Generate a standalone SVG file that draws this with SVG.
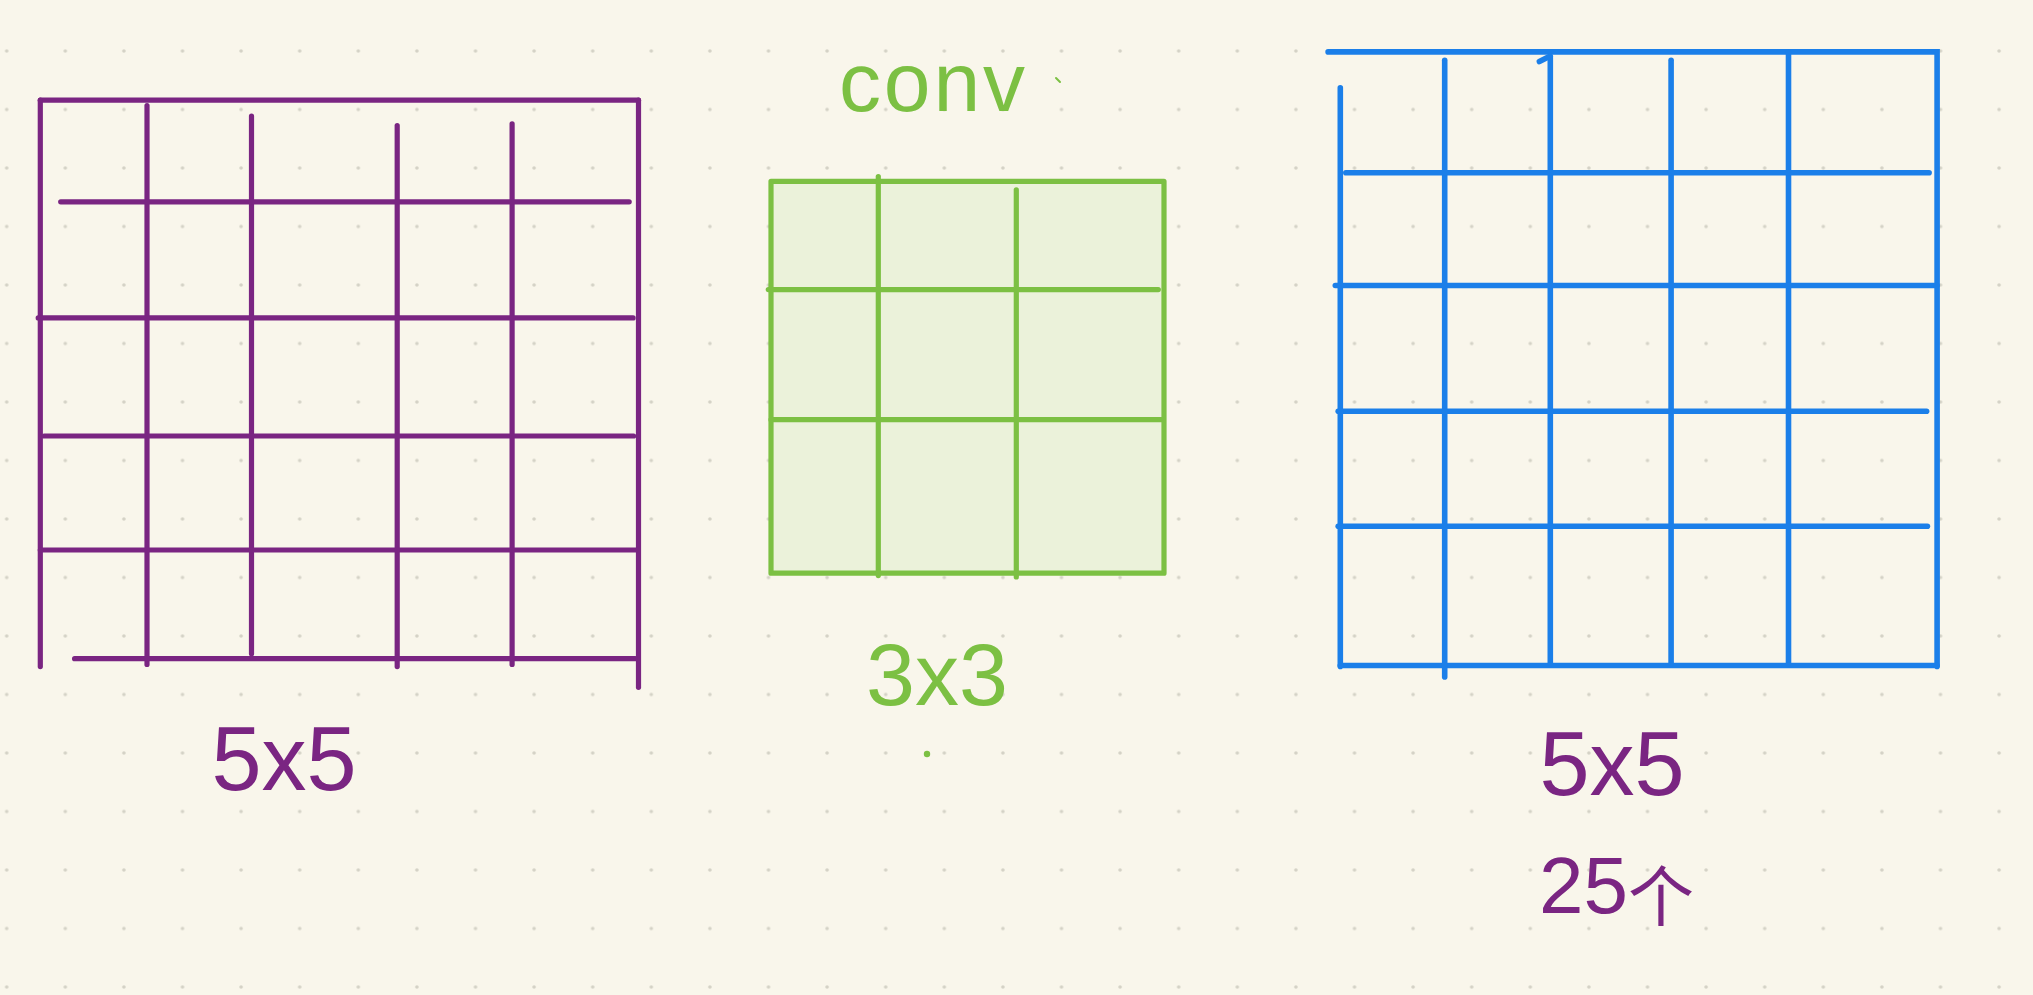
<svg xmlns="http://www.w3.org/2000/svg" width="2033" height="995" viewBox="0 0 2033 995">
  <defs>
    <pattern id="dots" x="6.7" y="51" width="58.6" height="58.5" patternUnits="userSpaceOnUse">
      <circle cx="0" cy="0" r="1.8" fill="#d4d2c6"/>
      <circle cx="58.6" cy="0" r="1.8" fill="#d4d2c6"/>
      <circle cx="0" cy="58.5" r="1.8" fill="#d4d2c6"/>
      <circle cx="58.6" cy="58.5" r="1.8" fill="#d4d2c6"/>
    </pattern>
    <style>
      .bg { fill: #f9f6eb; }
      .p { stroke: #7a2582; stroke-width: 5.2; stroke-linecap: round; fill: none; }
      .g { stroke: #7cc043; stroke-width: 5.2; stroke-linecap: round; fill: none; }
      .b { stroke: #1b7fe9; stroke-width: 5.6; stroke-linecap: round; fill: none; }
      .lbl { font-family: "Liberation Sans", "Noto Sans CJK SC", sans-serif; text-anchor: middle; }
      .tp { fill: #7a2582; }
      .tg { fill: #7cc043; }
    </style>
  </defs>

  <rect class="bg" x="0" y="0" width="2033" height="995"/>
  <rect x="0" y="0" width="2033" height="995" fill="url(#dots)"/>

  <!-- left 5x5 input grid -->
  <g id="input-grid-5x5">
    <path class="p" d="M40.3 100.2 H638.5"/>
    <path class="p" d="M40.3 100.2 V666.6"/>
    <path class="p" d="M638.5 100.2 V687.3"/>
    <path class="p" d="M147 105.6 V664.5"/>
    <path class="p" d="M251.5 116 V653.7"/>
    <path class="p" d="M397.2 125.5 V666.6"/>
    <path class="p" d="M512.1 123.8 V664.5"/>
    <path class="p" d="M60.7 201.8 H629.2"/>
    <path class="p" d="M38.2 317.9 H633.1"/>
    <path class="p" d="M44.2 436 H633.6"/>
    <path class="p" d="M40.3 550 H636.2"/>
    <path class="p" d="M74.6 658.7 H635.3"/>
  </g>

  <!-- middle 3x3 kernel -->
  <g id="kernel-3x3">
    <rect x="771" y="181.3" width="393" height="391.9" fill="#ebf2da" stroke="none"/>
    <path class="g" d="M771 181.3 H1164 V573.2 H771 Z" stroke-linejoin="round"/>
    <path class="g" d="M878.3 176.6 V575.6"/>
    <path class="g" d="M1016.3 189.8 V577"/>
    <path class="g" d="M768.3 289.6 H1158.3"/>
    <path class="g" d="M771 419.7 H1163.3"/>
  </g>

  <!-- right 5x5 output grid -->
  <g id="output-grid-5x5">
    <path class="b" d="M1328.1 51.9 H1937.1 V666.4"/>
    <path class="b" d="M1340.3 665.5 H1937"/>
    <path class="b" d="M1340.3 87.7 V666.4"/>
    <path class="b" d="M1444.7 60.3 V676.9"/>
    <path class="b" d="M1550.3 57.8 V663.4"/>
    <path class="b" d="M1539.4 61.6 L1550.3 56" stroke-width="3"/>
    <path class="b" d="M1671.1 60.3 V663.4"/>
    <path class="b" d="M1788.5 51.9 V663.4"/>
    <path class="b" d="M1345.8 172.7 H1929.1"/>
    <path class="b" d="M1335.3 285.5 H1937"/>
    <path class="b" d="M1338.2 411.3 H1926.6"/>
    <path class="b" d="M1338.2 526.2 H1927.4"/>
  </g>

  <!-- labels -->
  <g id="labels">
    <text class="lbl tg" x="932" y="111" font-size="84" textLength="186" lengthAdjust="spacing">conv</text>
    <path d="M1056 78 L1060 82" stroke="#7cc043" stroke-width="2" stroke-linecap="round"/>
    <text class="lbl tg" x="937" y="705" font-size="88">3x3</text>
    <circle cx="927" cy="754" r="3.2" fill="#7cc043"/>
    <text class="lbl tp" x="284" y="790" font-size="90">5x5</text>
    <text class="lbl tp" x="1612" y="795" font-size="90">5x5</text>
    <text class="lbl tp" x="1539" y="913" style="text-anchor:start"><tspan font-size="80">25</tspan><tspan font-size="66" dy="8">个</tspan></text>
  </g>
</svg>
